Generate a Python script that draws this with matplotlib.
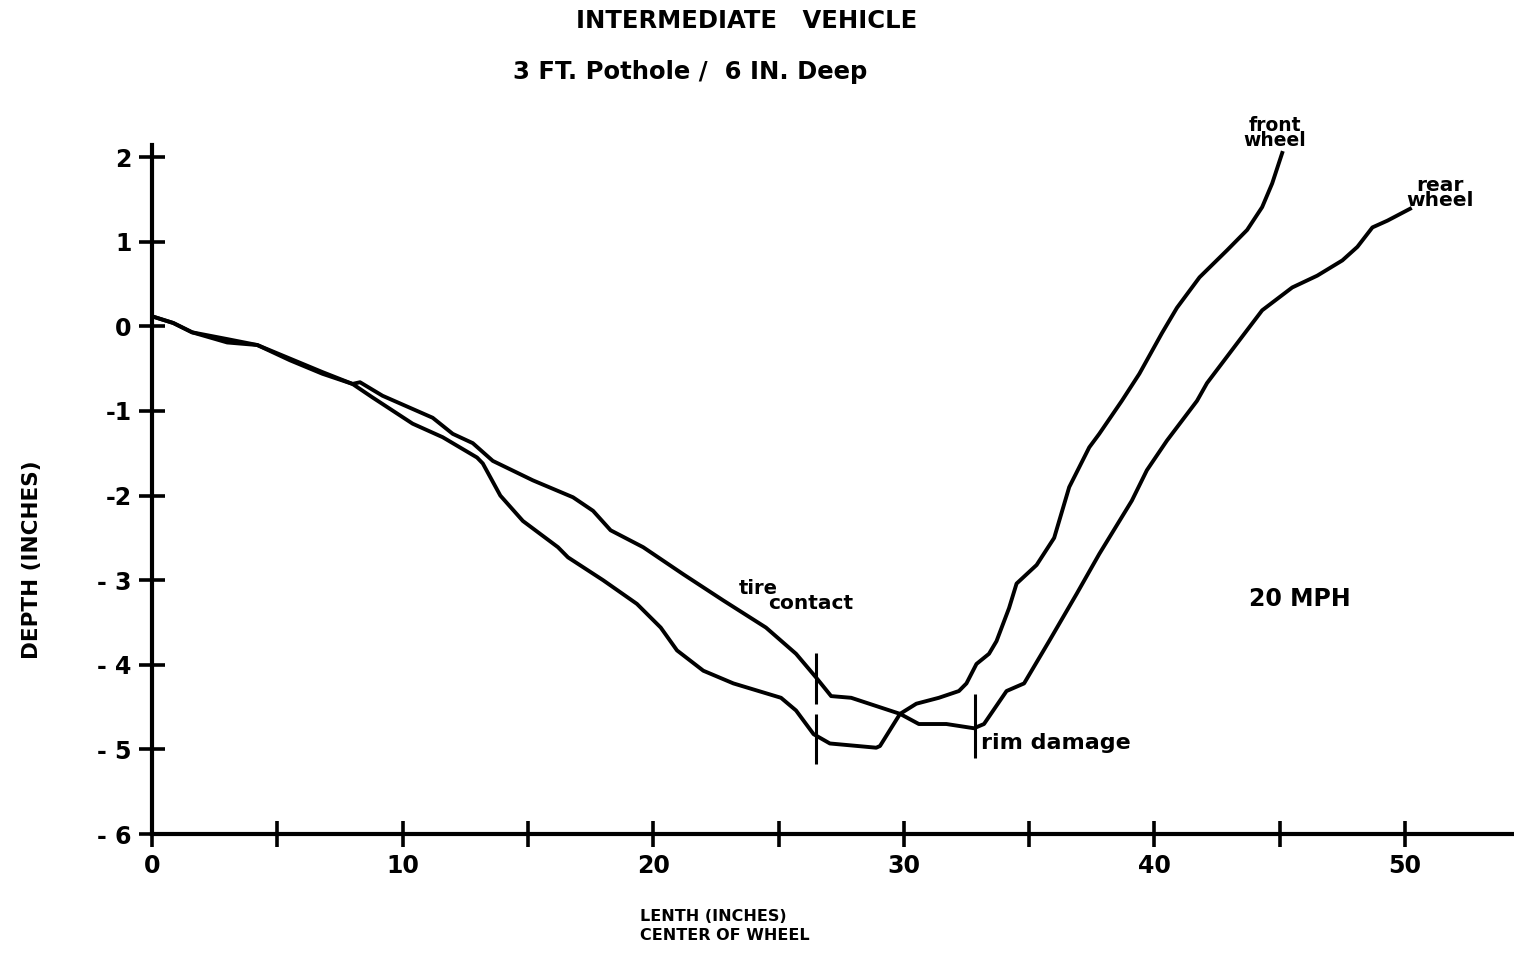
import matplotlib
matplotlib.use("Agg")
import matplotlib.pyplot as plt

# front wheel path (length in, depth in)
front_x = [0.1, 0.85, 1.6, 3.0, 4.2, 5.5, 6.8, 8.0, 8.8, 10.4, 11.6, 12.97, 13.2,
           13.9, 14.8, 16.2, 16.6, 18.0, 19.35, 20.3, 20.95, 22.0, 23.2, 25.1,
           25.7, 26.4, 27.05, 28.9, 29.05, 29.85, 30.5, 31.4, 32.2, 32.5, 32.9,
           33.4, 33.7, 34.2, 34.5, 35.3, 36.0, 36.6, 37.4, 37.8, 38.7, 39.4,
           40.3, 40.9, 41.8, 42.9, 43.7, 44.3, 44.7, 45.1]
front_y = [0.11, 0.04, -0.07, -0.15, -0.22, -0.38, -0.54, -0.68, -0.84, -1.15,
           -1.31, -1.55, -1.62, -2.0, -2.30, -2.61, -2.73, -3.0, -3.28, -3.56,
           -3.83, -4.07, -4.22, -4.39, -4.54, -4.82, -4.93, -4.98, -4.96, -4.58,
           -4.46, -4.39, -4.31, -4.22, -3.99, -3.87, -3.72, -3.33, -3.04, -2.82,
           -2.50, -1.90, -1.43, -1.27, -0.88, -0.56, -0.08, 0.22, 0.58, 0.90,
           1.14, 1.41, 1.69, 2.05]

# rear wheel path
rear_x = [0.1, 0.85, 1.6, 3.0, 4.2, 5.5, 6.8, 8.0, 8.3, 9.2, 11.2, 12.0, 12.8,
          13.6, 15.2, 16.8, 17.6, 18.3, 19.6, 21.2, 22.8, 24.5, 25.7, 26.5,
          27.1, 27.9, 29.85, 30.6, 31.7, 32.8, 33.2, 34.1, 34.8, 35.8, 36.9,
          37.8, 39.1, 39.7, 40.5, 41.7, 42.1, 43.3, 44.3, 45.5, 46.5, 47.5,
          48.1, 48.7, 49.3, 50.2]
rear_y = [0.11, 0.04, -0.07, -0.19, -0.22, -0.40, -0.56, -0.68, -0.66, -0.82,
          -1.08, -1.27, -1.38, -1.59, -1.82, -2.02, -2.18, -2.41, -2.61, -2.93,
          -3.24, -3.56, -3.87, -4.15, -4.37, -4.39, -4.58, -4.70, -4.70, -4.75,
          -4.70, -4.31, -4.22, -3.72, -3.16, -2.69, -2.06, -1.70, -1.35, -0.88,
          -0.67, -0.20, 0.19, 0.46, 0.60, 0.78, 0.94, 1.17, 1.25, 1.39]

x_ticks = list(range(0, 55, 5))
x_labels = ["0", "", "10", "", "20", "", "30", "", "40", "", "50"]
y_ticks = [2, 1, 0, -1, -2, -3, -4, -5, -6]
y_labels = ["2", "1", "0", "-1", "-2", "- 3", "- 4", "- 5", "- 6"]

contact_x = 26.5
contact_marks = [(-3.86, -4.46), (-4.58, -5.17)]
rim_x = 32.85
rim_mark = (-4.34, -5.10)

W, H = 1514, 969
fig = plt.figure(figsize=(W / 100, H / 100), dpi=100, facecolor="white")
ax = fig.add_axes([152 / W, (H - 834) / H, 1 - 152 / W, (834 - 144.5) / H])

ax.plot(front_x, front_y, color="black", lw=2.8, solid_joinstyle="round")
ax.plot(rear_x, rear_y, color="black", lw=2.8, solid_joinstyle="round")

for lo, hi in contact_marks:
    ax.vlines(contact_x, hi, lo, color="black", lw=2.2)
ax.vlines(rim_x, rim_mark[1], rim_mark[0], color="black", lw=2.2)

ax.set_xlim(0, (W - 152) / 25.06)
ax.set_ylim(-6, 2.15)
for s in ["top", "right"]:
    ax.spines[s].set_visible(False)
for s in ["left", "bottom"]:
    ax.spines[s].set_linewidth(3)

ax.set_xticks(x_ticks)
ax.set_xticklabels(x_labels)
ax.set_yticks(y_ticks)
ax.set_yticklabels(y_labels)
ax.tick_params(direction="inout", length=19, width=2.6, labelsize=17, pad=5)
for lab in ax.get_xticklabels() + ax.get_yticklabels():
    lab.set_fontweight("bold")

ax.text(23.4, -3.10, "tire", ha="left", va="center", fontsize=14, fontweight="bold")
ax.text(24.6, -3.27, "contact", ha="left", va="center", fontsize=14.5, fontweight="bold")
ax.text(33.1, -4.92, "rim damage", ha="left", va="center", fontsize=16, fontweight="bold")
ax.text(45.8, -3.22, "20 MPH", ha="center", va="center", fontsize=17, fontweight="bold")
ax.text(44.8, 2.29, "front\nwheel", ha="center", va="center", linespacing=0.72,
        fontsize=13.5, fontweight="bold")
ax.text(51.4, 1.58, "rear\nwheel", ha="center", va="center", linespacing=0.72,
        fontsize=14.5, fontweight="bold")

fig.text(747 / W, 1 - 21 / H, "INTERMEDIATE   VEHICLE", ha="center", va="center",
         fontsize=17.5, fontweight="bold")
fig.text(690 / W, 1 - 72 / H, "3 FT. Pothole /  6 IN. Deep", ha="center", va="center",
         fontsize=17.5, fontweight="bold")
fig.text(32 / W, 1 - 560 / H, "DEPTH (INCHES)", rotation=90, ha="center", va="center",
         fontsize=15.5, fontweight="bold")
fig.text(640 / W, 1 - 926 / H, "LENTH (INCHES)\nCENTER OF WHEEL", ha="left", va="center",
         fontsize=11.5, fontweight="bold", linespacing=1.3)

fig.savefig("out.png", dpi=100, facecolor="white")
